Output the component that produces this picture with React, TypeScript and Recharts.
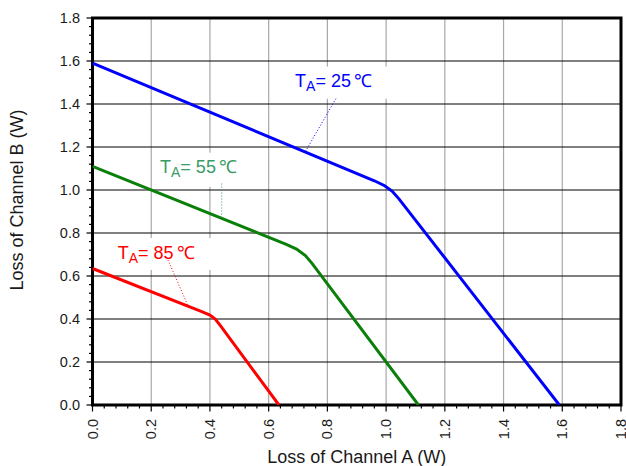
import React from 'react';
import {
  LineChart,
  Line,
  XAxis,
  YAxis,
  CartesianGrid,
  ReferenceArea,
  ReferenceLine,
  ReferenceDot,
} from 'recharts';

// ---- Data ----
const lossA25 = [0, 0.96, 0.995, 1.02, 1.043, 1.59];
const lossB25 = [1.59, 1.043, 1.02, 0.995, 0.96, 0];

const lossA55 = [0, 0.66, 0.695, 0.725, 0.747, 1.11];
const lossB55 = [1.11, 0.747, 0.725, 0.695, 0.66, 0];

const lossA85 = [0, 0.37, 0.4, 0.418, 0.435, 0.635];
const lossB85 = [0.635, 0.435, 0.418, 0.4, 0.37, 0];

const majorTicks = [0, 0.2, 0.4, 0.6, 0.8, 1.0, 1.2, 1.4, 1.6, 1.8];
const minorTicks = [
  0, 0.04, 0.08, 0.12, 0.16, 0.2, 0.24, 0.28, 0.32, 0.36, 0.4, 0.44, 0.48, 0.52,
  0.56, 0.6, 0.64, 0.68, 0.72, 0.76, 0.8, 0.84, 0.88, 0.92, 0.96, 1.0, 1.04,
  1.08, 1.12, 1.16, 1.2, 1.24, 1.28, 1.32, 1.36, 1.4, 1.44, 1.48, 1.52, 1.56,
  1.6, 1.64, 1.68, 1.72, 1.76, 1.8,
];

const seriesLabels = ['25', '55', '85'];

const zip = (a: number[], b: number[]) => a.map((v, i) => ({ a: v, b: b[i] }));
const data25 = zip(lossA25, lossB25);
const data55 = zip(lossA55, lossB55);
const data85 = zip(lossA85, lossB85);

const FONT = '"Liberation Sans", Arial, Helvetica, sans-serif';
const BLUE = '#0000ff';
const GREEN_LINE = '#0a7f0a';
const GREEN_TEXT = '#3a9a66';
const RED = '#ff0000';

const isMajor = (v: number) => Math.abs(v * 5 - Math.round(v * 5)) < 1e-6;

const XTick = (props: any) => {
  const { x, y, payload } = props;
  const v = payload.value as number;
  const major = isMajor(v);
  const ty = y + 14;
  return (
    <g>
      <line x1={x} y1={y} x2={x} y2={y + (major ? 6.5 : 3.5)} stroke="#000" strokeWidth={1.2} />
      {major && (
        <text
          x={x}
          y={ty}
          transform={`rotate(-90 ${x} ${ty})`}
          textAnchor="end"
          dominantBaseline="central"
          fontSize={14.5}
          fill="#1a1a1a"
          fontFamily={FONT}
        >
          {v.toFixed(1)}
        </text>
      )}
    </g>
  );
};

const YTick = (props: any) => {
  const { x, y, payload } = props;
  const v = payload.value as number;
  const major = isMajor(v);
  return (
    <g>
      <line x1={x - (major ? 6 : 3.5)} y1={y} x2={x} y2={y} stroke="#000" strokeWidth={1.2} />
      {major && (
        <text
          x={x - 12.5}
          y={y}
          textAnchor="end"
          dominantBaseline="central"
          fontSize={14.5}
          fill="#1a1a1a"
          fontFamily={FONT}
        >
          {v.toFixed(1)}
        </text>
      )}
    </g>
  );
};

const makeLabel = (temp: string, color: string) => (p: any) => (
  <text x={p.cx} y={p.cy} fill={color} fontSize={18} fontFamily={FONT}>
    T
    <tspan fontSize={14} dy={4}>A</tspan>
    <tspan dy={-4}>{`= ${temp}`}</tspan>
    <tspan dx={3}>℃</tspan>
  </text>
);

const YTitle = (p: any) => {
  const vb = p.viewBox || { x: 0, y: 0, height: 0 };
  const cx = vb.x + 23;
  const cy = 200;
  return (
    <text
      x={cx}
      y={cy}
      transform={`rotate(-90 ${cx} ${cy})`}
      textAnchor="middle"
      fontSize={18}
      fill="#1a1a1a"
      fontFamily={FONT}
    >
      Loss of Channel B (W)
    </text>
  );
};

export default function App() {
  return (
    <div style={{ position: 'absolute', left: 0, top: 0, background: '#fff' }}>
      <LineChart
        width={626}
        height={466}
        margin={{ top: 18, right: 5, left: 0, bottom: 0 }}
        style={{ fontFamily: FONT }}
      >
        <CartesianGrid
          horizontal={false}
          stroke="#a8a8a8"
          strokeWidth={1.2}
          verticalValues={majorTicks}
        />
        <CartesianGrid
          vertical={false}
          stroke="#000"
          strokeWidth={1}
          horizontalValues={majorTicks}
        />
        <XAxis
          dataKey="a"
          type="number"
          domain={[0, 1.8]}
          ticks={minorTicks}
          interval={0}
          allowDataOverflow
          height={61}
          tickSize={0}
          tickMargin={0}
          axisLine={false}
          tickLine={false}
          tick={<XTick />}
          label={{
            value: 'Loss of Channel A (W)',
            position: 'insideBottom',
            offset: 3,
            fontSize: 18,
            fill: '#1a1a1a',
          }}
        />
        <YAxis
          type="number"
          domain={[0, 1.8]}
          ticks={minorTicks}
          interval={0}
          allowDataOverflow
          width={92.5}
          tickSize={0}
          tickMargin={0}
          axisLine={false}
          tickLine={false}
          tick={<YTick />}
          label={<YTitle />}
        />

        {/* white boxes behind the annotations */}
        <ReferenceArea x1={0.66} x2={1.03} y1={1.425} y2={1.574} fill="#fff" fillOpacity={1} stroke="none" />
        <ReferenceArea x1={0.21} x2={0.55} y1={1.015} y2={1.173} fill="#fff" fillOpacity={1} stroke="none" />
        <ReferenceArea x1={0.06} x2={0.5} y1={0.628} y2={0.777} fill="#fff" fillOpacity={1} stroke="none" />

        <Line data={data25} dataKey="b" type="linear" stroke={BLUE} strokeWidth={3} dot={false} isAnimationActive={false} />
        <Line data={data55} dataKey="b" type="linear" stroke={GREEN_LINE} strokeWidth={3} dot={false} isAnimationActive={false} />
        <Line data={data85} dataKey="b" type="linear" stroke={RED} strokeWidth={3} dot={false} isAnimationActive={false} />

        {/* leader lines */}
        <ReferenceLine segment={[{ x: 0.829, y: 1.425 }, { x: 0.724, y: 1.176 }]} stroke={BLUE} strokeWidth={1} strokeDasharray="1 2" />
        <ReferenceLine segment={[{ x: 0.44, y: 1.03 }, { x: 0.44, y: 0.872 }]} stroke={GREEN_TEXT} strokeWidth={1} strokeDasharray="1 2" />
        <ReferenceLine segment={[{ x: 0.257, y: 0.675 }, { x: 0.325, y: 0.462 }]} stroke={RED} strokeWidth={1} strokeDasharray="1 2" />

        {/* annotation texts */}
        <ReferenceDot x={0.69} y={1.479} r={0} shape={makeLabel(seriesLabels[0], BLUE)} />
        <ReferenceDot x={0.23} y={1.079} r={0} shape={makeLabel(seriesLabels[1], GREEN_TEXT)} />
        <ReferenceDot x={0.086} y={0.68} r={0} shape={makeLabel(seriesLabels[2], RED)} />

        {/* plot frame */}
        <ReferenceArea x1={0} x2={1.8} y1={0} y2={1.8} fill="none" stroke="#000" strokeWidth={3} ifOverflow="visible" />
      </LineChart>
    </div>
  );
}
